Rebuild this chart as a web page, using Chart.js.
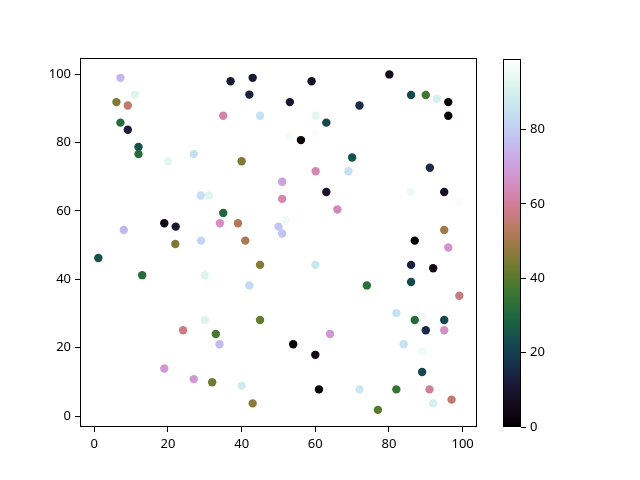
<!doctype html>
<html lang="en">
<head>
  <meta charset="utf-8">
  <title>Scatter with colorbar</title>
  <script src="https://cdn.jsdelivr.net/npm/chart.js"></script>
  <style>
    body { margin: 0; background: #fff; }
    #wrap { position: relative; width: 640px; height: 480px; }
    #wrap canvas { position: absolute; left: 0; top: 0; }
  </style>
</head>
<body>
  <div id="wrap">
    <canvas id="scatterChart" width="640" height="480"></canvas>
    <canvas id="colorbar" width="640" height="480"></canvas>
  </div>

  <script>
    // point data: x, y and colour value
    const xVals = [7.1, 11, 6, 9.1, 7.1, 9.1, 12, 12, 20, 27, 35, 40, 37, 43, 42.1, 45, 28.9, 31.1, 35, 19, 22.1, 34.1, 39, 8,
      59, 80.1, 53.1, 72, 60.1, 63, 53.1, 60.1, 56.1, 86, 90, 93, 96.1, 96.1, 70, 60.1, 69, 91.1, 51, 51, 63, 66, 86, 95, 99.1, 52, 50, 51, 95,
      1.1, 13, 22, 29, 41, 45, 30, 42.1, 30, 45, 24.1, 33, 34, 19, 27, 32, 40, 43,
      87, 96.1, 86, 92, 86, 74, 99.1, 60, 82, 89, 87, 95, 90, 95, 64, 54, 60, 84, 89, 89, 61, 72, 82, 91, 97, 92, 77];
    const yVals = [98.9, 94.0, 91.8, 90.8, 85.8, 83.7, 78.7, 76.6, 74.5, 76.6, 87.8, 74.5, 97.9, 98.9, 94.0, 87.8, 64.5, 64.5, 59.4, 56.4, 55.4, 56.4, 56.4, 54.4,
      97.9, 99.9, 91.8, 90.8, 87.8, 85.8, 81.8, 82.7, 80.7, 93.9, 93.9, 92.8, 91.8, 87.8, 75.6, 71.6, 71.6, 72.6, 68.5, 63.5, 65.5, 60.4, 65.5, 65.5, 62.5, 57.4, 55.4, 53.4, 54.4,
      46.2, 41.2, 50.3, 51.3, 51.3, 44.2, 41.2, 38.2, 28.1, 28.1, 25.1, 24.0, 21.0, 13.9, 10.8, 9.9, 8.9, 3.7,
      51.3, 49.3, 44.2, 43.2, 39.2, 38.2, 35.2, 44.2, 30.1, 29.0, 28.1, 28.1, 25.1, 25.1, 24.0, 21.0, 17.9, 21.0, 18.9, 12.9, 7.8, 7.8, 7.8, 7.8, 4.8, 3.7, 1.8];
    const cVals = [75, 92, 45, 55, 32, 12, 24, 32, 93, 85, 62, 45, 11, 11, 13, 85, 84, 92, 30, 3, 10, 66, 52, 75,
      8, 6, 10, 16, 93, 22, 97, 98, 2, 23, 37, 90, 1, 2, 24, 63, 85, 16, 70, 63, 9, 64, 96, 7, 98, 96, 78, 78, 50,
      24, 32, 45, 82, 51, 46, 92, 83, 92, 42, 58, 38, 76, 68, 68, 43, 88, 47,
      1, 67, 13, 5, 22, 33, 57, 86, 85, 96, 31, 22, 15, 66, 68, 2, 5, 85, 96, 22, 1, 87, 35, 60, 55, 90, 40];
    const xTicks = [0, 20, 40, 60, 80, 100];
    const yTicks = [0, 20, 40, 60, 80, 100];
    const cbTicks = [0, 20, 40, 60, 80];
    const cMin = 0, cMax = 99;

    // matplotlib 'cubehelix' colormap
    function cubehelix(t) {
      t = Math.min(1, Math.max(0, t));
      const amp = 0.5 * t * (1 - t);
      const phi = 2 * Math.PI * (0.5 / 3 - 1.5 * t);
      const cs = Math.cos(phi), sn = Math.sin(phi);
      const ch = v => Math.round(255 * Math.min(1, Math.max(0, v)));
      const r = t + amp * (-0.14861 * cs + 1.78277 * sn);
      const g = t + amp * (-0.29227 * cs - 0.90649 * sn);
      const b = t + amp * (1.97294 * cs);
      return 'rgb(' + ch(r) + ',' + ch(g) + ',' + ch(b) + ')';
    }
    const colorOf = c => cubehelix((c - cMin) / (cMax - cMin));

    const font = { family: '"Noto Sans", "DejaVu Sans", sans-serif', size: 13 };
    const points = xVals.map((x, i) => ({ x, y: yVals[i] }));

    const frame = {
      id: 'frame',
      afterDraw(chart) {
        const a = chart.chartArea, ctx = chart.ctx;
        ctx.save();
        ctx.strokeStyle = '#000';
        ctx.lineWidth = 1;
        ctx.strokeRect(Math.round(a.left) + 0.5, Math.round(a.top) + 0.5,
          Math.round(a.right - a.left) - 1, Math.round(a.bottom - a.top) - 1);
        ctx.restore();
      }
    };

    const axisStyle = {
      grid: { drawOnChartArea: false, drawTicks: true, tickLength: 5, color: '#000' },
      border: { display: false },
      ticks: { color: '#000', font, padding: 4 }
    };

    new Chart(document.getElementById('scatterChart'), {
      type: 'scatter',
      data: {
        datasets: [{
          data: points,
          pointRadius: 4.2,
          pointBorderWidth: 0,
          pointBackgroundColor: cVals.map(colorOf)
        }]
      },
      options: {
        responsive: false,
        animation: false,
        layout: { padding: { left: 0, top: 58, right: 163, bottom: 0 } },
        plugins: { legend: { display: false }, tooltip: { enabled: false } },
        scales: {
          x: {
            ...axisStyle,
            min: -3.88, max: 103.9,
            afterBuildTicks: s => { s.ticks = xTicks.map(v => ({ value: v })); },
            afterFit: s => { s.height = 53; }
          },
          y: {
            ...axisStyle,
            min: -3.2, max: 104.7,
            afterBuildTicks: s => { s.ticks = yTicks.map(v => ({ value: v })); },
            afterFit: s => { s.width = 80; }
          }
        }
      },
      plugins: [frame]
    });

    // colorbar: gradient strip drawn into the chart area, ticks from a right-hand scale
    const gradientBar = {
      id: 'gradientBar',
      beforeDraw(chart) {
        const a = chart.chartArea, ctx = chart.ctx;
        const grad = ctx.createLinearGradient(0, a.bottom, 0, a.top);
        for (let i = 0; i <= 64; i++) grad.addColorStop(i / 64, cubehelix(i / 64));
        ctx.save();
        ctx.fillStyle = grad;
        ctx.fillRect(a.left, a.top, a.right - a.left, a.bottom - a.top);
        ctx.restore();
      }
    };

    new Chart(document.getElementById('colorbar'), {
      type: 'scatter',
      data: { datasets: [{ data: [] }] },
      options: {
        responsive: false,
        animation: false,
        layout: { padding: { left: 503, top: 59, right: 0, bottom: 53 } },
        plugins: { legend: { display: false }, tooltip: { enabled: false } },
        scales: {
          x: { display: false, min: 0, max: 1 },
          y: {
            ...axisStyle,
            position: 'right',
            min: cMin, max: cMax,
            afterBuildTicks: s => { s.ticks = cbTicks.map(v => ({ value: v })); },
            afterFit: s => { s.width = 119; }
          }
        }
      },
      plugins: [gradientBar, frame]
    });
  </script>
</body>
</html>
